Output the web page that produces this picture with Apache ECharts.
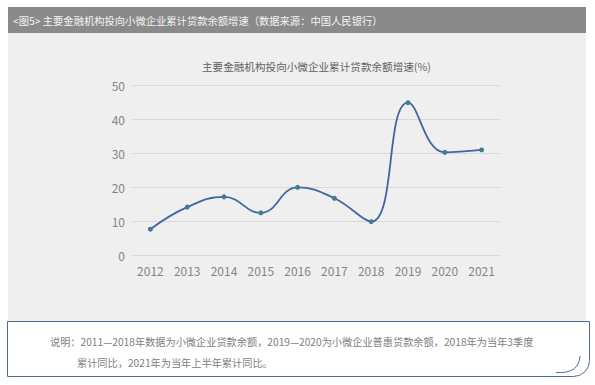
<!DOCTYPE html>
<html><head><meta charset="utf-8">
<script src="https://cdn.jsdelivr.net/npm/echarts@6/dist/echarts.min.js"></script>
<style>html,body{margin:0;padding:0;background:#fff;}#c{width:595px;height:385px;}</style>
</head><body><div id="c"></div>
<script>
var years = ['2012','2013','2014','2015','2016','2017','2018','2019','2020','2021'];
var growth = [7.6, 14.1, 17.1, 12.4, 19.9, 16.7, 9.8, 44.8, 30.2, 30.9];
var yTicks = [0, 10, 20, 30, 40, 50];
var headerText = '<图5> 主要金融机构投向小微企业累计贷款余额增速（数据来源：中国人民银行）';
var chartTitle = '主要金融机构投向小微企业累计贷款余额增速(%)';
var note1 = '说明：2011—2018年数据为小微企业贷款余额，2019—2020为小微企业普惠贷款余额，2018年为当年3季度';
var note2 = '累计同比，2021年为当年上半年累计同比。';

var FONT = '"Noto Sans CJK SC", "Noto Sans", sans-serif';
var chart = echarts.init(document.getElementById('c'), null, {renderer: 'svg'});
chart.setOption({
  backgroundColor: '#ffffff',
  animation: false,
  textStyle: {fontFamily: FONT},
  graphic: [
    {type: 'rect', z: -10, silent: true, shape: {x: 8, y: 33, width: 578, height: 289}, style: {fill: '#efefef'}},
    {type: 'rect', z: -10, silent: true, shape: {x: 8, y: 7, width: 578, height: 26}, style: {fill: '#8a8a8a'}},
    {type: 'text', z: 10, x: 13, y: 20, silent: true,
      style: {text: headerText, fill: '#f4f4f4', fontSize: 10.3, fontFamily: FONT, verticalAlign: 'middle', align: 'left'}},
    {type: 'rect', z: 5, silent: true,
      shape: {x: 7.5, y: 321.5, width: 582, height: 55, r: [0, 0, 16, 0]},
      style: {fill: '#ffffff', stroke: '#4f6a96', lineWidth: 1}},
    {type: 'bezierCurve', z: 6, silent: true,
      shape: {x1: 556, y1: 372.5, x2: 580, y2: 356, cpx1: 579, cpy1: 374},
      style: {fill: null, stroke: '#4f6a96', lineWidth: 1}},
    {type: 'text', z: 10, x: 50, y: 341, silent: true,
      style: {text: note1, fill: '#808080', fontSize: 10.2, fontFamily: FONT, verticalAlign: 'middle', align: 'left'}},
    {type: 'text', z: 10, x: 77, y: 362, silent: true,
      style: {text: note2, fill: '#808080', fontSize: 10.2, fontFamily: FONT, verticalAlign: 'middle', align: 'left'}}
  ],
  title: {
    text: chartTitle, left: 197, top: 56,
    textStyle: {fontSize: 10.6, fontWeight: 'normal', color: '#5f5f5f', fontFamily: FONT}
  },
  grid: {left: 132, right: 95, top: 85, bottom: 130, containLabel: false},
  xAxis: {
    type: 'category', data: years, boundaryGap: true,
    axisLine: {show: true, lineStyle: {color: '#d9d9d9', width: 1}},
    axisTick: {show: false},
    axisLabel: {color: '#858585', fontSize: 12, margin: 9, fontFamily: FONT}
  },
  yAxis: {
    type: 'value', min: yTicks[0], max: yTicks[yTicks.length - 1], interval: yTicks[1] - yTicks[0],
    axisLine: {show: false}, axisTick: {show: false},
    axisLabel: {color: '#858585', fontSize: 12, margin: 7, fontFamily: FONT},
    splitLine: {lineStyle: {color: '#d9d9d9', width: 1}}
  },
  series: [{
    type: 'line', data: growth, smooth: 0.45,
    symbol: 'circle', symbolSize: 5,
    lineStyle: {color: '#4264a4', width: 1.8},
    itemStyle: {color: '#3f7c8c'}
  }]
});
</script></body></html>
